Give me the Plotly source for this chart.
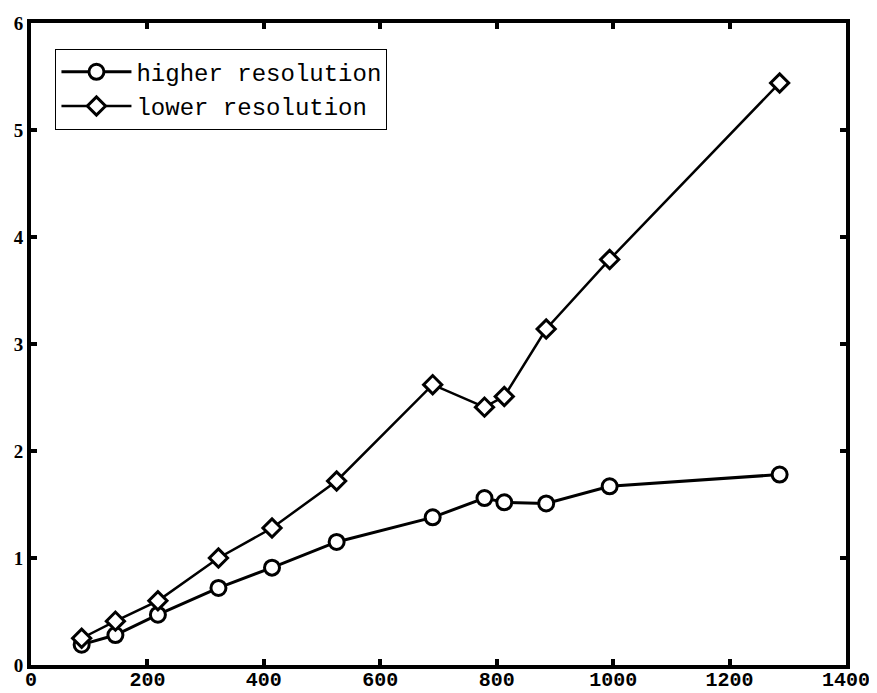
import plotly.graph_objects as go

x_vals = [87, 145, 218, 322, 414, 525, 690, 779, 813, 885, 994, 1286]
higher_res = [0.19, 0.28, 0.47, 0.72, 0.91, 1.15, 1.38, 1.56, 1.52, 1.51, 1.67, 1.78]
lower_res = [0.25, 0.41, 0.60, 1.00, 1.28, 1.72, 2.62, 2.41, 2.51, 3.14, 3.79, 5.44]
x_ticks = [0, 200, 400, 600, 800, 1000, 1200, 1400]
y_ticks = [0, 1, 2, 3, 4, 5, 6]

fig = go.Figure()
fig.add_trace(go.Scatter(
    x=x_vals, y=higher_res, mode="lines+markers", name="higher resolution",
    line=dict(color="black", width=3),
    marker=dict(symbol="circle", size=15, color="white", line=dict(color="black", width=3)),
))
fig.add_trace(go.Scatter(
    x=x_vals, y=lower_res, mode="lines+markers", name="lower resolution",
    line=dict(color="black", width=2.5),
    marker=dict(symbol="diamond", size=14, color="white", line=dict(color="black", width=3)),
))

axis_common = dict(
    showline=True, linewidth=4, linecolor="black", mirror="ticks",
    ticks="inside", ticklen=6, tickwidth=4, tickcolor="black",
    showgrid=False, zeroline=False, automargin=False,
)
fig.update_xaxes(range=[0, 1400], tickvals=x_ticks, ticklabelstandoff=-7,
                 tickfont=dict(family="Liberation Mono", size=20, color="black", weight="bold"),
                 **axis_common)
fig.update_yaxes(range=[0, 6], tickvals=y_ticks,
                 tickfont=dict(family="Liberation Serif", size=19, color="black", weight="bold"),
                 **axis_common)

fig.update_layout(
    width=869, height=693,
    margin=dict(l=23, r=31, t=15, b=36, autoexpand=False),
    paper_bgcolor="white", plot_bgcolor="white",
    showlegend=True,
    legend=dict(x=0.03, y=0.96, xanchor="left", yanchor="top",
                bgcolor="white", bordercolor="black", borderwidth=1,
                font=dict(family="Liberation Mono", size=24, color="black"),
                itemwidth=70, tracegroupgap=0),
)
fig.write_html("out.html")
